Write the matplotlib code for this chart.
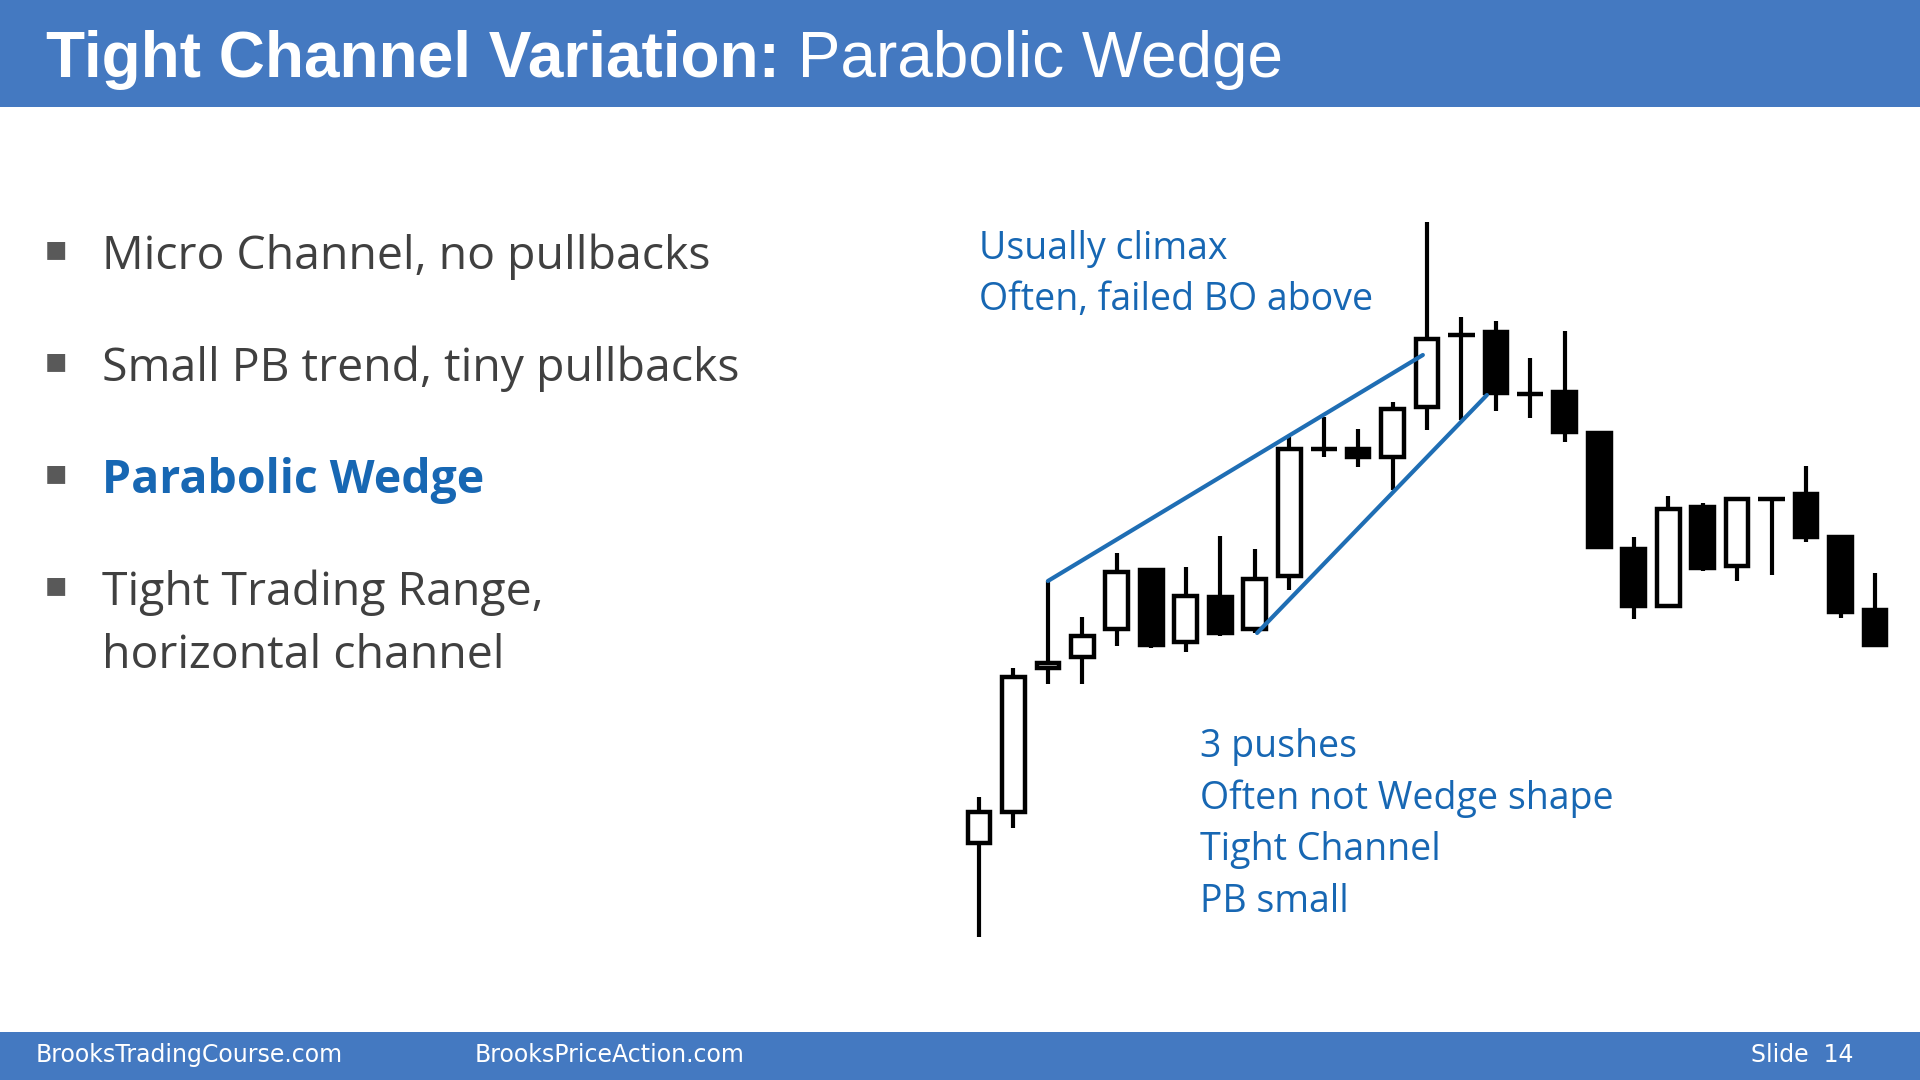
import matplotlib
matplotlib.use("Agg")
import matplotlib.pyplot as plt
from matplotlib.patches import Rectangle

# ---------------- data ----------------
opens  = [157, 188, 332, 343, 371, 430, 358, 403, 371, 424, 551, 551, 543, 593,
          665, 668, 606, 608, 567, 451, 394, 493, 434, 501, 506, 463, 390]
highs  = [203, 332, 419, 383, 447, 430, 433, 464, 451, 563, 583, 571, 598, 778,
          683, 679, 642, 669, 567, 463, 504, 497, 501, 502, 534, 463, 427]
lows   = [63, 172, 316, 316, 354, 352, 348, 364, 367, 410, 543, 533, 510, 570,
          580, 589, 582, 558, 452, 381, 393, 429, 419, 425, 458, 382, 354]
closes = [188, 323, 337, 364, 428, 355, 404, 367, 421, 551, 551, 543, 591, 661,
          665, 607, 606, 568, 453, 394, 491, 432, 501, 501, 463, 388, 355]

wedge_upper_x = [2.0, 12.88]
wedge_upper_y = [419, 645]
wedge_lower_x = [8.07, 14.74]
wedge_lower_y = [367, 605]

title_bold = "Tight Channel Variation:"
title_rest = " Parabolic Wedge"
bullets = [["Micro Channel, no pullbacks"],
           ["Small PB trend, tiny pullbacks"],
           ["Parabolic Wedge"],
           ["Tight Trading Range,", "horizontal channel"]]
note_top = ["Usually climax", "Often, failed BO above"]
note_bottom = ["3 pushes", "Often not Wedge shape", "Tight Channel", "PB small"]
footer_left = "BrooksTradingCourse.com"
footer_mid = "BrooksPriceAction.com"
footer_right = "Slide  14"

# ---------------- styling ----------------
W, H = 1920, 1080
BAR_BLUE = "#4479C1"
TEXT_BLUE = "#1767B3"
GRAY = "#404040"

fig = plt.figure(figsize=(W / 100, H / 100), dpi=100)
fig.patch.set_facecolor("white")

def fx(px):
    return px / W

def fy(py):
    return 1 - py / H

# header and footer bars
fig.patches.append(Rectangle((0, fy(107)), 1, 107 / H, transform=fig.transFigure,
                             facecolor=BAR_BLUE, edgecolor="none", zorder=0))
fig.patches.append(Rectangle((0, 0), 1, (H - 1032) / H, transform=fig.transFigure,
                             facecolor=BAR_BLUE, edgecolor="none", zorder=0))

# title
t1 = fig.text(fx(46), fy(77), title_bold, color="white", fontsize=46,
              fontweight="bold", family="Liberation Sans", va="baseline", ha="left")
fig.canvas.draw()
bb = t1.get_window_extent()
fig.text(bb.x1 / W, fy(77), title_rest, color="white", fontsize=46,
         family="Liberation Sans", va="baseline", ha="left")

# bullets
bullet_y = [257, 369, 481, 593]
line_gap = 63
for i, (lines, yy) in enumerate(zip(bullets, bullet_y)):
    fig.text(fx(44), fy(yy - 8), "\u25aa", color="#595959", fontsize=26,
             family="DejaVu Sans", va="center", ha="left")
    bold = (i == 2)
    for j, txt in enumerate(lines):
        fig.text(fx(102), fy(yy + j * line_gap), txt,
                 color=TEXT_BLUE if bold else GRAY,
                 fontsize=33.4, fontweight="bold" if bold else "normal",
                 family="Open Sans", va="center", ha="left")

# annotations
for txt, yy in zip(note_top, [249, 300]):
    fig.text(fx(979), fy(yy), txt, color=TEXT_BLUE, fontsize=27,
             family="Open Sans", va="center", ha="left")
for txt, yy in zip(note_bottom, [747, 799, 850, 902]):
    fig.text(fx(1200), fy(yy), txt, color=TEXT_BLUE, fontsize=27,
             family="Open Sans", va="center", ha="left")

# footer
for txt, xx in zip([footer_left, footer_mid, footer_right], [36, 475, 1751]):
    fig.text(fx(xx), fy(1055), txt, color="white", fontsize=17,
             family="Liberation Sans Narrow", va="center", ha="left")

# ---------------- candles ----------------
ax_left, ax_right, ax_top, ax_bot = 940, 1910, 200, 960
ax = fig.add_axes([fx(ax_left), fy(ax_bot), (ax_right - ax_left) / W,
                   (ax_bot - ax_top) / H])
ax.set_xlim((ax_left - 979) / 34.46, (ax_right - 979) / 34.46)
ax.set_ylim(1000 - ax_bot, 1000 - ax_top)
ax.axis("off")
ax.patch.set_alpha(0)

xs = list(range(len(opens)))
ax.vlines(xs, lows, highs, color="black", linewidth=3.0, zorder=2)
body_w = 0.66
for x, o, h, l, c in zip(xs, opens, highs, lows, closes):
    bottom = min(o, c)
    height = abs(c - o)
    face = "white" if c >= o else "black"
    if height == 0:
        ax.hlines(o, x - body_w / 2 - 0.05, x + body_w / 2 + 0.05,
                  color="black", linewidth=3.2, zorder=3)
    else:
        ax.bar(x, height, bottom=bottom, width=body_w, facecolor=face,
               edgecolor="black", linewidth=3.2, zorder=3)

ax.plot(wedge_upper_x, wedge_upper_y, color="#1F6EB4", linewidth=3.0, zorder=4,
        solid_capstyle="round")
ax.plot(wedge_lower_x, wedge_lower_y, color="#1F6EB4", linewidth=3.0, zorder=4,
        solid_capstyle="round")

fig.savefig("out.png", dpi=100, facecolor="white")
